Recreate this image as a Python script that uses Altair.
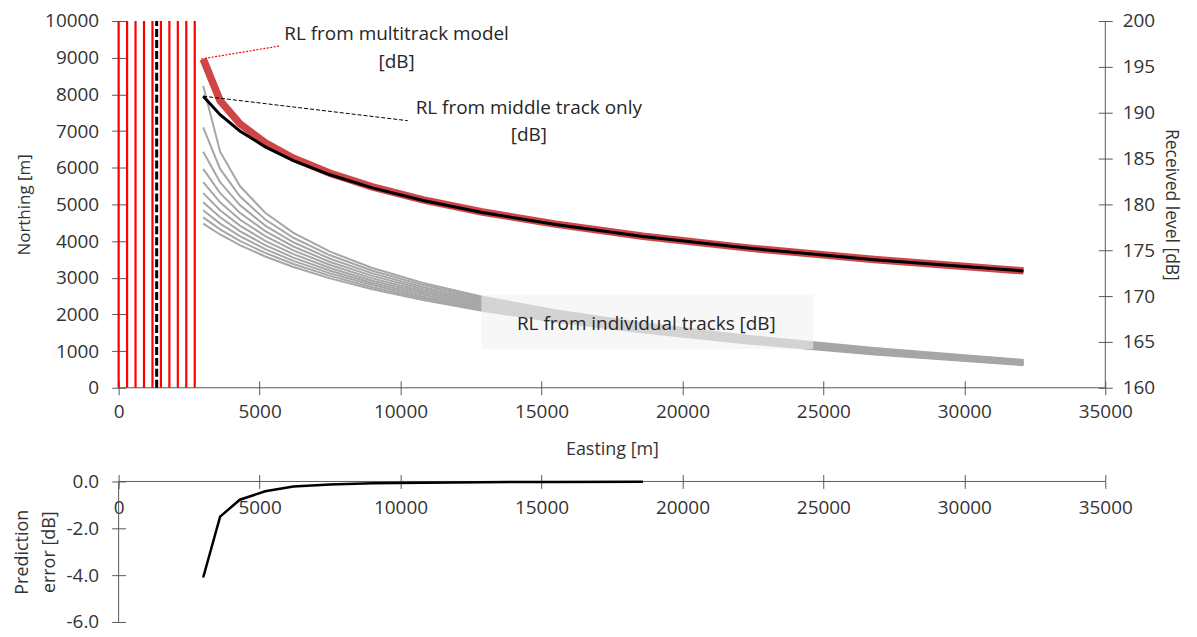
import altair as alt
import pandas as pd

FONT = "Open Sans"
TXT = "#333333"
ANN = "#262626"
AX = "#595959"

W = 990
H_TOP = 368
H_BOT = 141

# ---- data ----
track_easting = [0, 300, 600, 900, 1200, 1500, 1800, 2100, 2400, 2700]
middle_track_easting = [1350]
track_northing = [0, 10000]

easting = [3000, 3600, 4300, 5200, 6200, 7500, 9000, 10800, 12900, 15500, 18600, 22300, 26800, 32100]
rl_multitrack = [195.86, 191.31, 188.81, 186.72, 185.04, 183.39, 181.92, 180.50, 179.17, 177.85, 176.53, 175.26, 174.00, 172.75]
rl_middle = [191.80, 189.78, 188.01, 186.28, 184.77, 183.23, 181.80, 180.43, 179.12, 177.80, 176.51, 175.24, 173.97, 172.74]

rl_track_2700 = [192.90, 185.75, 182.00, 179.09, 176.90, 174.84, 173.07, 171.43, 169.93, 168.45, 167.04, 165.68, 164.33, 163.04]
rl_track_2400 = [188.39, 183.87, 180.88, 178.35, 176.36, 174.45, 172.77, 171.20, 169.74, 168.30, 166.92, 165.58, 164.25, 162.97]
rl_track_2100 = [185.75, 182.42, 179.92, 177.69, 175.87, 174.07, 172.48, 170.97, 169.56, 168.15, 166.80, 165.48, 164.17, 162.90]
rl_track_1800 = [183.87, 181.23, 179.09, 177.09, 175.41, 173.72, 172.20, 170.75, 169.38, 168.01, 166.68, 165.38, 164.09, 162.84]
rl_track_1500 = [182.42, 180.23, 178.35, 176.54, 174.98, 173.39, 171.93, 170.53, 169.21, 167.87, 166.57, 165.29, 164.01, 162.77]
rl_track_1200 = [181.23, 179.36, 177.69, 176.03, 174.58, 173.07, 171.68, 170.33, 169.04, 167.73, 166.45, 165.20, 163.94, 162.71]
rl_track_900 = [180.23, 178.59, 177.09, 175.56, 174.20, 172.77, 171.43, 170.13, 168.87, 167.59, 166.34, 165.10, 163.86, 162.65]
rl_track_600 = [179.36, 177.90, 176.54, 175.12, 173.84, 172.48, 171.20, 169.93, 168.71, 167.46, 166.23, 165.01, 163.79, 162.59]
rl_track_300 = [178.59, 177.28, 176.03, 174.71, 173.50, 172.20, 170.97, 169.74, 168.55, 167.33, 166.12, 164.92, 163.71, 162.52]
rl_track_0 = [177.90, 176.72, 175.56, 174.32, 173.17, 171.93, 170.75, 169.56, 168.40, 167.21, 166.02, 164.84, 163.64, 162.46]

error_easting = [3000, 3600, 4300, 5200, 6200, 7500, 9000, 10800, 12900, 15500, 18600]
pred_error = [-4.1, -1.5, -0.78, -0.42, -0.22, -0.13, -0.08, -0.05, -0.03, -0.02, -0.01]

x_ticks = [0, 5000, 10000, 15000, 20000, 25000, 30000, 35000]
n_ticks = [0, 1000, 2000, 3000, 4000, 5000, 6000, 7000, 8000, 9000, 10000]
rl_ticks = [160, 165, 170, 175, 180, 185, 190, 195, 200]
err_ticks = [0, -2, -4, -6]

# annotations (easting, northing)
ann_text = ["RL from multitrack model", "[dB]", "RL from middle track only", "[dB]",
            "RL from individual tracks [dB]"]
ann_e = [9860, 9860, 14550, 14550, 18720]
ann_n = [9640, 8880, 7640, 6900, 1740]
box_e = [12870, 24640]
box_n = [1060, 2527]
lead_red_e = [2934, 5727]
lead_red_n = [8965, 9321]
lead_blk_e = [3000, 10252]
lead_blk_n = [7950, 7283]

# ---- tables ----
tracks_rl = [rl_track_0, rl_track_300, rl_track_600, rl_track_900, rl_track_1200,
             rl_track_1500, rl_track_1800, rl_track_2100, rl_track_2400, rl_track_2700]
gray_rows = []
for p, vals in zip(track_easting, tracks_rl):
    for e, v in zip(easting, vals):
        gray_rows.append({"e": e, "rl": v, "track": str(p)})
gray_df = pd.DataFrame(gray_rows)
red_df = pd.DataFrame({"e": easting, "rl": rl_multitrack})
blk_df = pd.DataFrame({"e": easting, "rl": rl_middle})
err_df = pd.DataFrame({"e": error_easting, "err": pred_error})
tracks_df = pd.DataFrame({"e": track_easting, "n": track_northing[0], "n2": track_northing[1]})
mid_df = pd.DataFrame({"e": middle_track_easting, "n": track_northing[0], "n2": track_northing[1]})
ann_df = pd.DataFrame({"e": ann_e, "n": ann_n, "t": ann_text})
box_df = pd.DataFrame({"e": [box_e[0]], "e2": [box_e[1]], "n": [box_n[0]], "n2": [box_n[1]]})
lead_red_df = pd.DataFrame({"e": [lead_red_e[0]], "e2": [lead_red_e[1]], "n": [lead_red_n[0]], "n2": [lead_red_n[1]]})
lead_blk_df = pd.DataFrame({"e": [lead_blk_e[0]], "e2": [lead_blk_e[1]], "n": [lead_blk_n[0]], "n2": [lead_blk_n[1]]})
one = pd.DataFrame({"a": [0]})

# ---- scales and axes ----
xs = alt.Scale(domain=[0, 35000], nice=False)
ns = alt.Scale(domain=[0, 10000], nice=False)
rs = alt.Scale(domain=[160, 200], nice=False)
es = alt.Scale(domain=[-6, 0], nice=False)

x_axis = alt.Axis(values=x_ticks, format="d", offset=-7, tickSize=14, domain=False,
                  labelPadding=8, labelFlush=False, title="Easting [m]", titlePadding=19)
n_axis = alt.Axis(orient="left", values=n_ticks, format="d", offset=-7, tickSize=14,
                  domain=False, labelPadding=13, title="Northing [m]", titlePadding=11,
                  titleFontSize=17)
r_axis = alt.Axis(orient="right", values=rl_ticks, format="d", offset=-7, tickSize=14,
                  domain=False, labelPadding=10, title="Received level [dB]", titlePadding=7,
                  titleFontSize=17.5)
xb_axis = alt.Axis(orient="top", values=x_ticks, format="d", offset=-7, tickSize=14,
                   domain=False, labelPadding=-33, labelBaseline="middle", labelFlush=False,
                   title=None)
e_axis = alt.Axis(values=err_ticks, offset=-7, tickSize=14, domain=False, labelPadding=13,
                  labelExpr="datum.value < 0 ? '-' + format(-datum.value, '.1f') : format(datum.value, '.1f')",
                  title=["Prediction", "error [dB]"], titlePadding=8, titleLineHeight=27,
                  titleFontSize=18)

X = lambda: alt.X("e:Q", scale=xs, axis=x_axis)
YN = lambda: alt.Y("n:Q", scale=ns, axis=n_axis)
YR = lambda: alt.Y("rl:Q", scale=rs, axis=r_axis)

# ---- right (received level) layers ----
gray = alt.Chart(gray_df).mark_line(color="#a6a6a6", strokeWidth=2).encode(
    x=X(), y=YR(), detail="track:N", order="e:Q")
red = alt.Chart(red_df).mark_line(color="#d04545", strokeWidth=7.5).encode(x=X(), y=YR())
blk = alt.Chart(blk_df).mark_line(color="black", strokeWidth=3).encode(x=X(), y=YR())
right_group = alt.layer(gray, red, blk)

# ---- left (northing) layers ----
left_line = alt.Chart(one).mark_rule(color=AX, strokeWidth=1).encode(
    x=alt.value(0), y=alt.value(0), y2=alt.value(H_TOP))
right_line = alt.Chart(one).mark_rule(color=AX, strokeWidth=1).encode(
    x=alt.value(W), y=alt.value(0), y2=alt.value(H_TOP))
bottom_line = alt.Chart(one).mark_rule(color=AX, strokeWidth=1).encode(
    x=alt.value(0), x2=alt.value(W), y=alt.value(H_TOP))
tracks = alt.Chart(tracks_df).mark_rule(color="#ff0000", strokeWidth=2.2).encode(
    x=X(), y=YN(), y2="n2:Q")
middle = alt.Chart(mid_df).mark_rule(color="black", strokeWidth=3, strokeDash=[8, 3]).encode(
    x=X(), y=YN(), y2="n2:Q")
box = alt.Chart(box_df).mark_rect(fill="#f2f2f2", opacity=0.6).encode(
    x=X(), x2="e2:Q", y=YN(), y2="n2:Q")
lead_red = alt.Chart(lead_red_df).mark_rule(color="#ff0000", strokeWidth=1.2, strokeDash=[2, 1.5]).encode(
    x=X(), x2="e2:Q", y=YN(), y2="n2:Q")
lead_blk = alt.Chart(lead_blk_df).mark_rule(color="black", strokeWidth=1, strokeDash=[4, 2]).encode(
    x=X(), x2="e2:Q", y=YN(), y2="n2:Q")
texts = alt.Chart(ann_df).mark_text(font=FONT, fontSize=19, color=ANN, align="center",
                                    baseline="middle").encode(x=X(), y=YN(), text="t:N")
left_group = alt.layer(left_line, right_line, bottom_line, tracks, middle, box,
                       lead_red, lead_blk, texts)

top = alt.layer(right_group, left_group).resolve_scale(y="independent").properties(
    width=W, height=H_TOP)

# ---- bottom panel ----
err_line = alt.Chart(err_df).mark_line(color="black", strokeWidth=2.5).encode(
    x=alt.X("e:Q", scale=xs, axis=xb_axis), y=alt.Y("err:Q", scale=es, axis=e_axis))
b_left = alt.Chart(one).mark_rule(color=AX, strokeWidth=1).encode(
    x=alt.value(0), y=alt.value(0), y2=alt.value(H_BOT))
b_top = alt.Chart(one).mark_rule(color=AX, strokeWidth=1).encode(
    x=alt.value(0), x2=alt.value(W), y=alt.value(0))
bottom = alt.layer(b_left, b_top, err_line).properties(width=W, height=H_BOT)

chart = alt.vconcat(top, bottom, spacing=14).properties(
    padding={"left": 5, "top": 3, "right": 9, "bottom": 3}
).configure_view(stroke=None).configure_axis(
    labelFont=FONT, titleFont=FONT, labelColor=TXT, titleColor=TXT, tickColor=AX,
    labelFontSize=19, titleFontSize=18, titleFontWeight="normal", grid=False
)

chart.save("out.html", embed_options={"renderer": "svg", "actions": False})
